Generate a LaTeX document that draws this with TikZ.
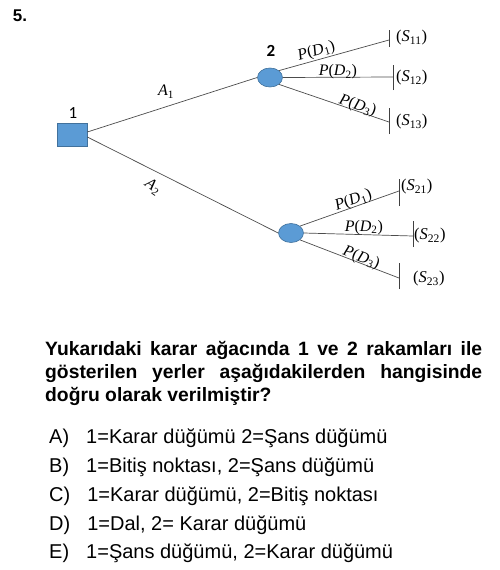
\documentclass[tikz,border=0pt]{standalone}
\usepackage{fontspec}
\setmainfont{Liberation Sans}
\newfontfamily\calibri{Carlito}
\newfontfamily\cambria{Liberation Serif}
\usetikzlibrary{positioning,shapes.geometric}
\definecolor{nodeblue}{HTML}{5B9BD5}
\definecolor{nodeedge}{HTML}{41719C}
\newcommand{\qsize}{\fontsize{19.3}{23}\selectfont}
\newcommand{\osize}{\fontsize{20}{28}\selectfont}
\newcommand{\pd}[1]{\textit{P}(\textit{D}\textsubscript{#1})}
\newcommand{\sres}[1]{(\textit{S}\textsubscript{#1})}

\begin{document}
\begin{tikzpicture}[x=1pt,y=-1pt,
        branch/.style={draw=black!70, line width=0.7pt},
        endbar/.style={draw=black!75, line width=0.8pt},
        decision/.style={draw=nodeedge, fill=nodeblue, line width=0.6pt, rectangle, minimum width=30pt, minimum height=23pt, inner sep=0pt},
        chance/.style={draw=nodeedge, fill=nodeblue, line width=0.6pt, ellipse, minimum width=25pt, minimum height=19pt, inner sep=0pt},
        prob/.style={font=\cambria\fontsize{16}{16}\selectfont, inner sep=0.5pt},
        result/.style={font=\cambria\fontsize{16.5}{17}\selectfont, inner sep=0pt, anchor=west},
        nodelab/.style={font=\calibri\fontsize{17}{17}\selectfont, inner sep=0pt},
        option/.style={font=\osize, anchor=west, inner sep=0pt}]
    \useasboundingbox (0,0) rectangle (500,570);

    \node[font=\bfseries\fontsize{17}{17}\selectfont, inner sep=0pt] (qnum) at (20,16) {5.};

    % tree
    \node[decision] (karar) at (72,134.5) {};
    \node[chance] (sans1) at (270,77.5) {};
    \node[chance] (sans2) at (291,233) {};
    \node[nodelab] (lab1) at (73,113) {1};
    \node[nodelab, font=\calibri\bfseries\fontsize{17}{17}\selectfont] (lab2) at (271,51) {2};

    \draw[branch] (karar.east) ++(0,-2.5) coordinate (k1) -- (sans1.west);
    \draw[branch] (karar.east) ++(0,2.5) coordinate (k2) -- (sans2.west);
    \node[font=\cambria\fontsize{16}{16}\selectfont, inner sep=0pt] (a1) at (166,92) {\textit{A}\textsubscript{1}};
    \node[font=\cambria\fontsize{16}{16}\selectfont, inner sep=0pt, rotate=-35] (a2) at (153,187) {\textit{A}\textsubscript{2}};

    % ends of the upper chance node
    \coordinate (e11) at (389,40);
    \coordinate (e12) at (393,77);
    \coordinate (e13) at (389,122);
    \draw[branch] (sans1.north east) -- node[prob, sloped, above, pos=0.36] (p11) {\pd{1}} (e11);
    \draw[branch] (sans1.east) -- node[prob, above, pos=0.5, yshift=-3pt] (p12) {\pd{2}} (e12);
    \draw[branch] (sans1.south east) -- node[prob, sloped, above, pos=0.7, yshift=-3pt] (p13) {\pd{3}} (e13);
    \draw[endbar] ([yshift=-7]e11) -- ([yshift=10]e11);
    \draw[endbar] ([yshift=-13]e12) -- ([yshift=12]e12);
    \draw[endbar] ([yshift=-12]e13) -- ([yshift=14]e13);
    \node[result] (s11) at (396,38) {\sres{11}};
    \node[result] (s12) at (396,78) {\sres{12}};
    \node[result] (s13) at (396,122) {\sres{13}};

    % ends of the lower chance node
    \coordinate (e21) at (399,191);
    \coordinate (e22) at (413,236);
    \coordinate (e23) at (399,278);
    \draw[branch] (sans2.north east) -- node[prob, sloped, above, pos=0.56, yshift=-2pt] (p21) {\pd{1}} (e21);
    \draw[branch] (sans2.east) -- node[prob, above, pos=0.55, yshift=-1pt] (p22) {\pd{2}} (e22);
    \draw[branch] (sans2.south east) -- node[prob, sloped, above, pos=0.6, yshift=-3pt] (p23) {\pd{3}} (e23);
    \draw[endbar] ([yshift=-15]e21) -- ([yshift=12]e21);
    \draw[endbar] ([yshift=-11]e22) -- ([yshift=15]e22);
    \draw[endbar] ([yshift=-11]e23) -- ([yshift=15]e23);
    \node[result] (s21) at (401,187) {\sres{21}};
    \node[result] (s22) at (414,236) {\sres{22}};
    \node[result] (s23) at (413,279) {\sres{23}};

    % question
    \node[font=\bfseries\qsize, anchor=north west, inner sep=0pt, align=left] (soru) at (45,341)
        {\makebox[437pt][s]{Yukarıdaki karar ağacında 1 ve 2 rakamları ile}\\
         \makebox[437pt][s]{gösterilen yerler aşağıdakilerden hangisinde}\\
         doğru olarak verilmiştir?};

    % choices
    \node[option] (oa) at (49,438) {A)\hspace{17pt}1=Karar düğümü 2=Şans düğümü};
    \node[option] (ob) at (49,467) {B)\hspace{17pt}1=Bitiş noktası, 2=Şans düğümü};
    \node[option] (oc) at (49,496) {C)\hspace{17pt}1=Karar düğümü, 2=Bitiş noktası};
    \node[option] (od) at (49,525) {D)\hspace{17pt}1=Dal, 2= Karar düğümü};
    \node[option] (oe) at (49,553) {E)\hspace{17pt}1=Şans düğümü, 2=Karar düğümü};
\end{tikzpicture}
\end{document}
